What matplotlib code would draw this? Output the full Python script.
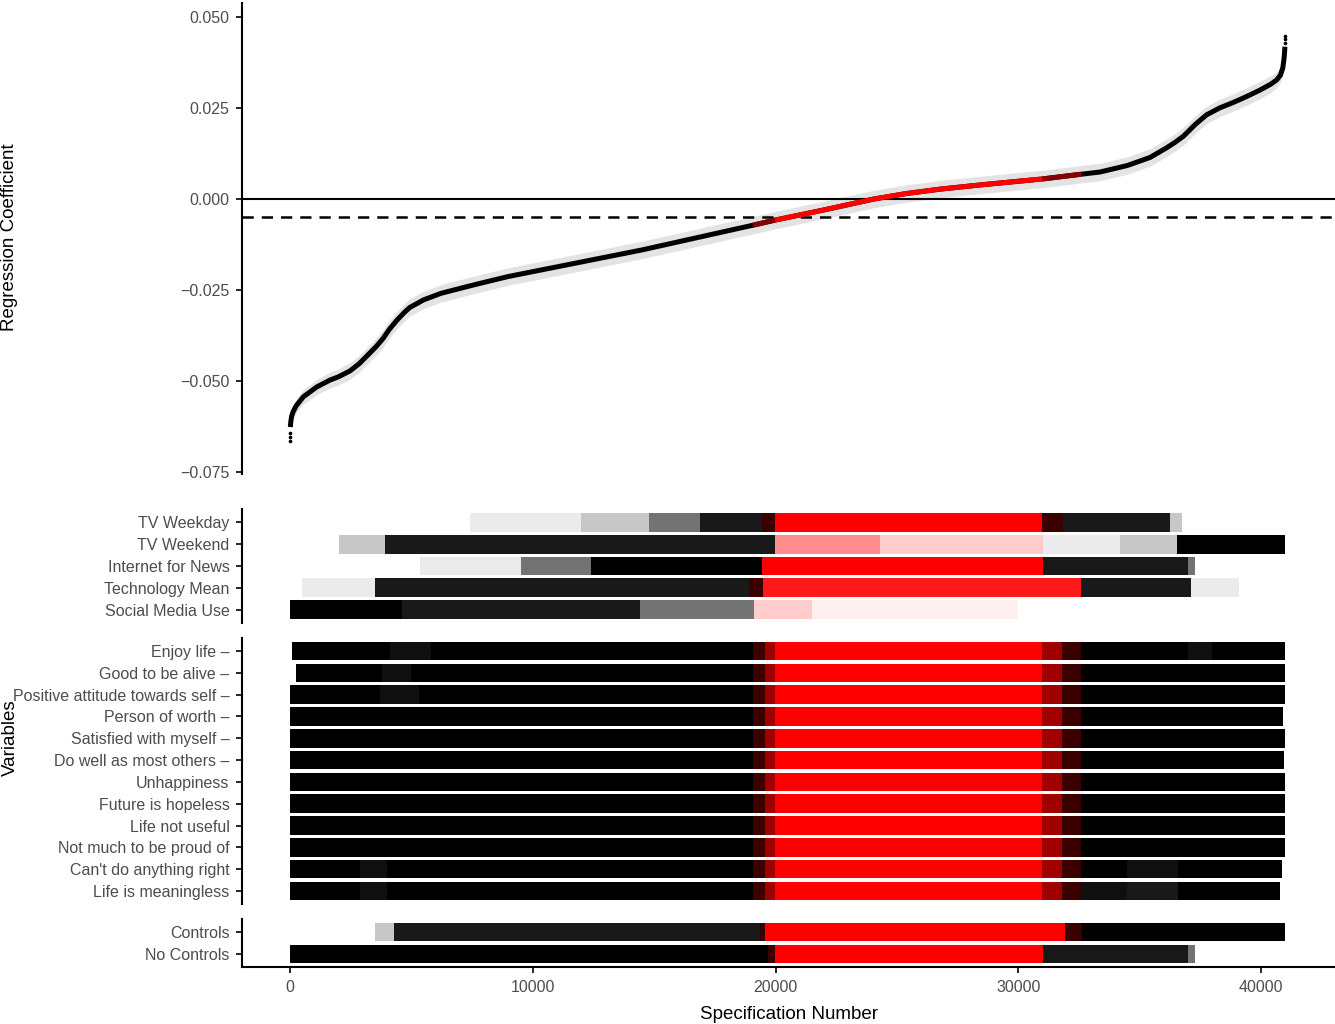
import matplotlib
matplotlib.use("Agg")
import matplotlib.pyplot as plt

plt.rcParams['font.family'] = ['Liberation Sans', 'DejaVu Sans']

# ---------------- data ----------------
# specification curve (spec number, coefficient)
curve_spec = [12, 30, 60, 120, 250, 550, 1100, 1650, 2000, 2470, 2850, 3210, 3550, 3830,
              4100, 4400, 4700, 4930, 5500, 6220, 7500, 8980, 14490, 19070, 19980, 22000,
              24060, 25400, 26780, 28500, 31000, 32600, 33370, 34500, 35430, 36100, 36450,
              36800, 37300, 37760, 38300, 38860, 39400, 39960, 40400, 40650, 40800, 40900,
              40950, 40975, 40985]
curve_coef = [-0.0626, -0.0612, -0.0598, -0.0585, -0.0568, -0.0543, -0.0516, -0.0497,
              -0.0488, -0.0472, -0.0452, -0.0428, -0.0405, -0.0383, -0.0357, -0.0333,
              -0.0312, -0.0298, -0.0277, -0.0259, -0.0237, -0.0213, -0.0140, -0.0072,
              -0.0058, -0.0030, 0.0000, 0.0015, 0.0027, 0.0039, 0.0055, 0.0068, 0.0074,
              0.0092, 0.0114, 0.0140, 0.0155, 0.0172, 0.0205, 0.0231, 0.0250, 0.0265,
              0.0281, 0.0299, 0.0315, 0.0327, 0.0340, 0.0360, 0.0385, 0.0405, 0.0418]
ci_half = [0.0012, 0.0014, 0.0016, 0.0018, 0.0019, 0.0020, 0.0021, 0.0022, 0.0022,
           0.0023, 0.0023, 0.0023, 0.0024, 0.0024, 0.0024, 0.0024, 0.0024, 0.0024,
           0.0024, 0.0024, 0.0024, 0.0024, 0.0024, 0.0024, 0.0024, 0.0024, 0.0024,
           0.0024, 0.0024, 0.0024, 0.0024, 0.0024, 0.0024, 0.0024, 0.0024, 0.0024,
           0.0024, 0.0024, 0.0024, 0.0024, 0.0024, 0.0024, 0.0024, 0.0024, 0.0023,
           0.0022, 0.0021, 0.0019, 0.0017, 0.0015, 0.0013]
tail_low_spec = [0, 4, 8]
tail_low_coef = [-0.0665, -0.0654, -0.0643]
tail_high_spec = [40984, 40988, 40992]
tail_high_coef = [0.0429, 0.0439, 0.0448]
red_range = (19980, 31000)
mixed_ranges = [(19070, 19980), (31000, 32600)]
zero_ref = 0.0
dashed_ref = -0.005

coef_ticks = [0.05, 0.025, 0.0, -0.025, -0.05, -0.075]
coef_tick_labels = ["0.050", "0.025", "0.000", "\u22120.025", "\u22120.050", "\u22120.075"]
spec_ticks = [0, 10000, 20000, 30000, 40000]
spec_tick_labels = ["0", "10000", "20000", "30000", "40000"]

# indicator rows: (start, end, density/colour code)
predictor_labels = ["TV Weekday", "TV Weekend", "Internet for News",
                    "Technology Mean", "Social Media Use"]
predictor_segments = [
    [(7400, 12000, 'kv'), (12000, 14800, 'ks'), (14800, 16900, 'km'), (16900, 19440, 'kd'),
     (19440, 19980, 'xk'), (19980, 30980, 'r'), (30980, 31840, 'xk'),
     (31840, 36250, 'kd'), (36250, 36750, 'ks')],
    [(2000, 3900, 'ks'), (3900, 19980, 'kd'), (19980, 24300, 'rm'), (24300, 31000, 'rs'),
     (31000, 34200, 'kv'), (34200, 36540, 'ks'), (36540, 40990, 'k')],
    [(5350, 9500, 'kv'), (9500, 12400, 'km'), (12400, 19440, 'k'), (19440, 31020, 'r'),
     (31020, 37000, 'kd'), (37000, 37300, 'km')],
    [(500, 3500, 'kv'), (3500, 18900, 'kd'), (18900, 19500, 'xk'), (19500, 32600, 'rd'),
     (32600, 37100, 'kd'), (37100, 39100, 'kv')],
    [(0, 4600, 'k'), (4600, 14400, 'kd'), (14400, 19100, 'km'), (19100, 21500, 'rs'),
     (21500, 30000, 'rv')],
]

outcome_labels = ["Enjoy life \u2013", "Good to be alive \u2013",
                  "Positive attitude towards self \u2013", "Person of worth \u2013",
                  "Satisfied with myself \u2013", "Do well as most others \u2013",
                  "Unhappiness", "Future is hopeless", "Life not useful",
                  "Not much to be proud of", "Can't do anything right",
                  "Life is meaningless"]
outcome_segments = [
    [(100, 4100, 'k'), (4100, 5800, 'kl'), (5800, 19070, 'k'), (19070, 19560, 'xk'),
     (19560, 19980, 'xr'), (19980, 30980, 'r'), (30980, 31800, 'xr'), (31800, 32600, 'xk'),
     (32600, 37000, 'k'), (37000, 38000, 'kl'), (38000, 40990, 'k')],
    [(250, 3800, 'k'), (3800, 5000, 'kl'), (5000, 19070, 'k'), (19070, 19560, 'xk'),
     (19560, 19980, 'xr'), (19980, 30980, 'r'), (30980, 31800, 'xr'), (31800, 32600, 'xk'),
     (32600, 40990, 'k')],
    [(0, 3700, 'k'), (3700, 5300, 'kl'), (5300, 19070, 'k'), (19070, 19560, 'xk'),
     (19560, 19980, 'xr'), (19980, 30980, 'r'), (30980, 31800, 'xr'), (31800, 32600, 'xk'),
     (32600, 40990, 'k')],
    [(0, 19070, 'k'), (19070, 19560, 'xk'), (19560, 19980, 'xr'), (19980, 30980, 'r'),
     (30980, 31800, 'xr'), (31800, 32600, 'xk'), (32600, 40900, 'k')],
    [(0, 19070, 'k'), (19070, 19560, 'xk'), (19560, 19980, 'xr'), (19980, 30980, 'r'),
     (30980, 31800, 'xr'), (31800, 32600, 'xk'), (32600, 40990, 'k')],
    [(0, 19070, 'k'), (19070, 19560, 'xk'), (19560, 19980, 'xr'), (19980, 30980, 'r'),
     (30980, 31800, 'xr'), (31800, 32600, 'xk'), (32600, 40950, 'k')],
    [(0, 19070, 'k'), (19070, 19560, 'xk'), (19560, 19980, 'xr'), (19980, 30980, 'r'),
     (30980, 31800, 'xr'), (31800, 32600, 'xk'), (32600, 40990, 'k')],
    [(0, 19070, 'k'), (19070, 19560, 'xk'), (19560, 19980, 'xr'), (19980, 30980, 'r'),
     (30980, 31800, 'xr'), (31800, 32600, 'xk'), (32600, 40990, 'k')],
    [(0, 19070, 'k'), (19070, 19560, 'xk'), (19560, 19980, 'xr'), (19980, 30980, 'r'),
     (30980, 31800, 'xr'), (31800, 32600, 'xk'), (32600, 40990, 'k')],
    [(0, 19070, 'k'), (19070, 19560, 'xk'), (19560, 19980, 'xr'), (19980, 30980, 'r'),
     (30980, 31800, 'xr'), (31800, 32600, 'xk'), (32600, 40990, 'k')],
    [(0, 2900, 'k'), (2900, 4000, 'kl'), (4000, 19070, 'k'), (19070, 19560, 'xk'),
     (19560, 19980, 'xr'), (19980, 30980, 'r'), (30980, 31800, 'xr'), (31800, 32600, 'xk'),
     (32600, 34500, 'k'), (34500, 36600, 'kl'), (36600, 40860, 'k')],
    [(0, 2900, 'k'), (2900, 4000, 'kl'), (4000, 19070, 'k'), (19070, 19560, 'xk'),
     (19560, 19980, 'xr'), (19980, 30980, 'r'), (30980, 31800, 'xr'), (31800, 32600, 'xk'),
     (32600, 34500, 'kl'), (34500, 36600, 'kd'), (36600, 40780, 'k')],
]

control_labels = ["Controls", "No Controls"]
control_segments = [
    [(3500, 4300, 'ks'), (4300, 19360, 'kd'), (19360, 19570, 'xk'), (19570, 31925, 'r'),
     (31925, 32625, 'xk'), (32625, 40990, 'k')],
    [(0, 19700, 'k'), (19700, 19980, 'xk'), (19980, 31020, 'r'), (31020, 37000, 'kd'),
     (37000, 37300, 'km')],
]

# ---------------- styling ----------------
STYLE = {
    'k': ('#000000', 1.0), 'kl': ('#000000', 0.94), 'kd': ('#000000', 0.9),
    'km': ('#000000', 0.55), 'ks': ('#000000', 0.22), 'kv': ('#000000', 0.08),
    'r': ('#ff0000', 1.0), 'rd': ('#ff0000', 0.9), 'rm': ('#ff0000', 0.45),
    'rs': ('#ff0000', 0.2), 'rv': ('#ff0000', 0.06),
    'xk': ('#3a0000', 1.0), 'xr': ('#a00000', 1.0),
}
TXT = '#4d4d4d'
FS = 11.5
XLIM = (-1980, 43050)
W, H = 1335, 1024


def px_axes(top, bottom, left=242, right=1335):
    return [left / W, 1 - bottom / H, (right - left) / W, (bottom - top) / H]


fig = plt.figure(figsize=(W / 100, H / 100), dpi=100)

# ---------- top panel ----------
ax0 = fig.add_axes(px_axes(3, 474))
lo = [c - h for c, h in zip(curve_coef, ci_half)]
hi = [c + h for c, h in zip(curve_coef, ci_half)]
ax0.fill_between(curve_spec, lo, hi, color='#e3e3e3', lw=0, zorder=1)
ax0.axhline(zero_ref, color='black', lw=1.5, zorder=2)
ax0.axhline(dashed_ref, color='black', lw=1.8, ls=(0, (4.5, 3.2)), zorder=2)
ax0.plot(curve_spec, curve_coef, color='black', lw=3.6, solid_capstyle='butt',
         solid_joinstyle='round', zorder=3)
for a, b in mixed_ranges:
    xs = [s for s in curve_spec if a <= s <= b]
    ys = [c for s, c in zip(curve_spec, curve_coef) if a <= s <= b]
    ax0.plot(xs, ys, color='#8a0000', lw=3.6, solid_capstyle='butt', zorder=4)
xs = [s for s in curve_spec if red_range[0] <= s <= red_range[1]]
ys = [c for s, c in zip(curve_spec, curve_coef) if red_range[0] <= s <= red_range[1]]
ax0.plot(xs, ys, color='#ff0000', lw=3.6, solid_capstyle='butt',
         solid_joinstyle='round', zorder=5)
ax0.scatter(tail_low_spec + tail_high_spec, tail_low_coef + tail_high_coef,
            s=7, color='black', lw=0, zorder=5)
ax0.set_xlim(*XLIM)
ax0.set_ylim(-0.0755, 0.0538)
ax0.set_yticks(coef_ticks)
ax0.set_yticklabels(coef_tick_labels)
ax0.set_xticks([])
for s in ['top', 'right', 'bottom']:
    ax0.spines[s].set_visible(False)
ax0.spines['left'].set_linewidth(1.5)
ax0.tick_params(axis='y', length=4, width=1.2, pad=5, labelsize=FS, labelcolor=TXT)


def tile_panel(top, bottom, labels, segments, xaxis=False):
    ax = fig.add_axes(px_axes(top, bottom))
    n = len(labels)
    for i, segs in enumerate(segments):
        y = n - i
        for a, b, code in segs:
            col, al = STYLE[code]
            ax.barh(y, b - a, left=a, height=0.86, color=col, alpha=al, lw=0)
    ax.set_xlim(*XLIM)
    ax.set_ylim(0.4, n + 0.6)
    ax.set_yticks([n - i for i in range(n)])
    ax.set_yticklabels(labels)
    for s in ['top', 'right']:
        ax.spines[s].set_visible(False)
    ax.spines['left'].set_linewidth(1.5)
    ax.tick_params(axis='y', length=4, width=1.2, pad=5, labelsize=FS, labelcolor=TXT)
    if xaxis:
        ax.spines['bottom'].set_linewidth(1.5)
        ax.set_xticks(spec_ticks)
        ax.set_xticklabels(spec_tick_labels)
        ax.tick_params(axis='x', length=4, width=1.2, pad=5, labelsize=FS, labelcolor=TXT)
    else:
        ax.spines['bottom'].set_visible(False)
        ax.set_xticks([])
    return ax


tile_panel(509, 623, predictor_labels, predictor_segments)
tile_panel(638, 904, outcome_labels, outcome_segments)
axb = tile_panel(919, 967, control_labels, control_segments, xaxis=True)
axb.set_xlabel("Specification Number", fontsize=13.5, labelpad=8)

fig.text(10 / W, 1 - 237 / H, "Regression Coefficient", rotation=90,
         ha='center', va='center', fontsize=13.5)
fig.text(10 / W, 1 - 738 / H, "Variables", rotation=90,
         ha='center', va='center', fontsize=13.5)

fig.savefig("out.png", dpi=100)
